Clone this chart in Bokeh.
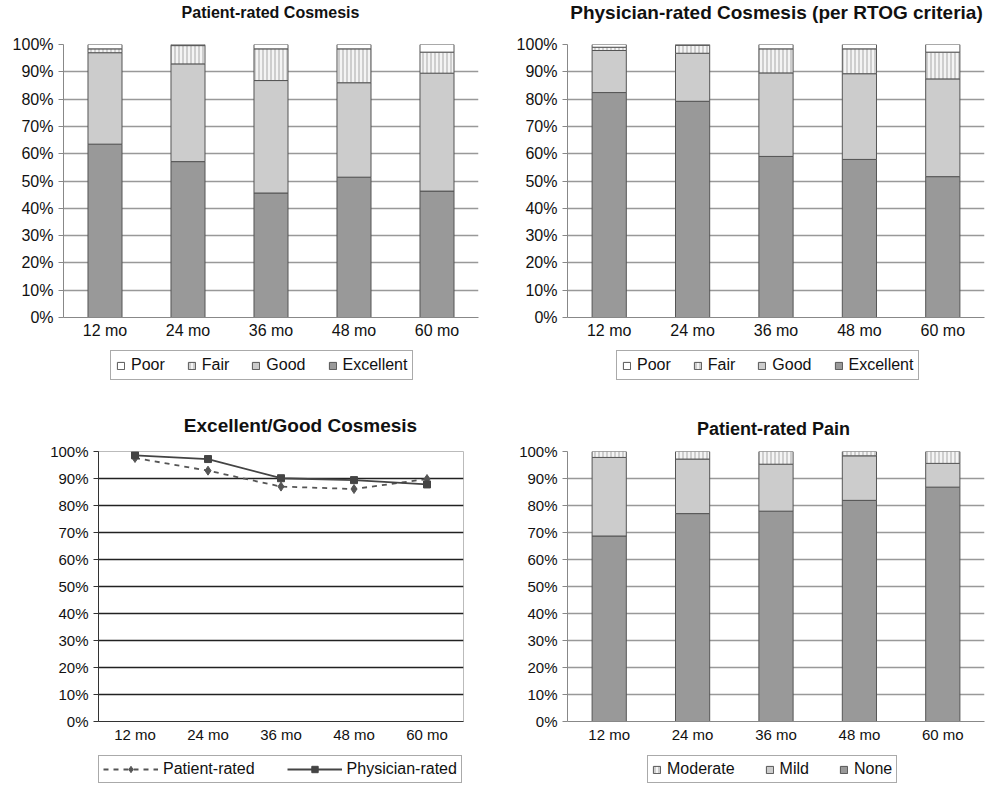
from bokeh.plotting import figure
from bokeh.models import ColumnDataSource, Legend, LegendItem, FixedTicker, Range1d, FactorRange, Label
from bokeh.layouts import column, row
from bokeh.embed import file_html
from bokeh.resources import INLINE

months = ["12 mo", "24 mo", "36 mo", "48 mo", "60 mo"]
pct_ticks = [0, 10, 20, 30, 40, 50, 60, 70, 80, 90, 100]

# Patient-rated cosmesis (%)
pat_excellent = [63.5, 57.1, 45.6, 51.4, 46.3]
pat_good = [33.5, 35.8, 41.2, 34.6, 43.2]
pat_fair = [1.4, 6.7, 11.6, 12.4, 7.7]
pat_poor = [1.6, 0.4, 1.6, 1.6, 2.8]

# Physician-rated cosmesis (%)
phy_excellent = [82.4, 79.2, 59.0, 57.9, 51.6]
phy_good = [15.4, 17.6, 30.6, 31.4, 35.8]
phy_fair = [1.2, 2.9, 8.8, 9.1, 9.8]
phy_poor = [1.0, 0.3, 1.6, 1.6, 2.8]

# Excellent/Good cosmesis (%)
line_patient = [97.6, 92.9, 87.0, 86.1, 89.8]
line_physician = [98.6, 97.2, 90.1, 89.4, 87.8]

# Patient-rated pain (%)
pain_none = [68.7, 77.0, 77.9, 81.9, 86.8]
pain_mild = [29.1, 20.2, 17.4, 16.5, 8.8]
pain_moderate = [2.2, 2.8, 4.7, 1.6, 4.4]

FONT = "Liberation Sans"
DARK = "#999999"
LIGHT = "#cccccc"
FAIR = "#f4f4f4"
EDGE = "#555555"


def new_fig(width, height, left, right, top, bottom, y0=0, y1=100):
    return figure(width=width, height=height, x_range=FactorRange(*months, range_padding=0),
                  y_range=Range1d(y0, y1), output_backend="svg", toolbar_location=None,
                  title=None, min_border_left=left, min_border_right=right,
                  min_border_top=top, min_border_bottom=bottom,
                  background_fill_color="white", border_fill_color="white")


def strip(height):
    # an empty strip that only hosts a title or a legend (data, if any, sits outside the view)
    sp = new_fig(500, height, 0, 0, 0, 0, y0=200, y1=300)
    sp.axis.visible = False
    sp.grid.visible = False
    sp.outline_line_color = None
    return sp


def title_strip(height, text, cx, cy, size):
    sp = strip(height)
    sp.add_layout(Label(x=cx, y=cy, x_units="screen", y_units="screen", text=text,
                        text_font=FONT, text_font_size=size, text_font_style="bold",
                        text_color="#111111", text_align="center", text_baseline="middle"))
    return sp


def base_fig(width, height, left, right, top, bottom, tick_size="16px",
             grid_color="#999999", axis_color="#888888"):
    p = new_fig(width, height, left, right, top, bottom)
    p.yaxis.ticker = FixedTicker(ticks=pct_ticks)
    p.yaxis.major_label_overrides = {v: f"{v}%" for v in pct_ticks}
    for ax in (p.xaxis[0], p.yaxis[0]):
        ax.major_label_text_font = FONT
        ax.major_label_text_font_size = tick_size
        ax.major_label_text_color = "#111111"
        ax.axis_line_color = axis_color
        ax.major_tick_line_color = axis_color
        ax.minor_tick_line_color = None
        ax.major_tick_in = 0
        ax.major_tick_out = 5
        ax.major_label_standoff = 5
    p.xaxis.major_tick_line_color = None
    p.xaxis.major_tick_out = 0
    p.xaxis.major_label_standoff = 4
    p.xgrid.visible = False
    p.ygrid.grid_line_color = grid_color
    p.ygrid.grid_line_width = 1.3
    p.outline_line_color = None
    return p


def draw_stack(p, layers):
    # layers: list of (name, values, fill, hatched) from bottom to top
    data = {"month": months}
    for name, vals, _, _ in layers:
        data[name] = vals
    src = ColumnDataSource(data)
    rs = p.vbar_stack([l[0] for l in layers], x="month", width=0.41, source=src,
                      fill_color=[l[2] for l in layers], line_color=EDGE, line_width=1)
    for r, l in zip(rs, layers):
        if l[3]:
            r.glyph.hatch_pattern = "vertical_line"
            r.glyph.hatch_color = "#a8a8a8"
            r.glyph.hatch_scale = 4
            r.glyph.hatch_weight = 1
    return rs


def draw_lines(p):
    l1 = p.line(months, line_patient, line_color="#555555", line_width=1.8, line_dash="5 5")
    s1 = p.scatter(months, line_patient, marker="diamond", size=9, fill_color="#555555", line_color="#555555")
    l2 = p.line(months, line_physician, line_color="#444444", line_width=1.8)
    s2 = p.scatter(months, line_physician, marker="square", size=7, fill_color="#444444", line_color="#444444")
    return [[l1, s1], [l2, s2]]


def put_legend(lp, labels, renderer_groups, loc, glyph_w=9, glyph_h=9, spacing=22, padding=5, standoff=6):
    items = [LegendItem(label=lab, renderers=g) for lab, g in zip(labels, renderer_groups)]
    lg = Legend(items=items, orientation="horizontal", location=loc,
                label_text_font=FONT, label_text_font_size="16px", label_text_color="#111111",
                glyph_width=glyph_w, glyph_height=glyph_h, label_standoff=standoff, spacing=spacing,
                padding=padding, margin=0, border_line_color=EDGE, border_line_width=1.3,
                background_fill_color="white", background_fill_alpha=1.0)
    lp.add_layout(lg, "center")


pat_layers = [("Excellent", pat_excellent, DARK, False), ("Good", pat_good, LIGHT, False),
              ("Fair", pat_fair, FAIR, True), ("Poor", pat_poor, "white", False)]
phy_layers = [("Excellent", phy_excellent, DARK, False), ("Good", phy_good, LIGHT, False),
              ("Fair", phy_fair, FAIR, True), ("Poor", phy_poor, "white", False)]
pain_layers = [("None", pain_none, DARK, False), ("Mild", pain_mild, LIGHT, False),
               ("Moderate", pain_moderate, FAIR, True)]

# Row 1: titles
t1 = title_strip(26, "Patient-rated Cosmesis", 270, 14, "16px")
t2 = title_strip(26, "Physician-rated Cosmesis (per RTOG criteria)", 276, 14, "19px")

# Row 2: top charts
p1 = base_fig(500, 320, 63, 22, 18, 29)
draw_stack(p1, pat_layers)
p2 = base_fig(500, 320, 67, 16, 18, 29)
draw_stack(p2, phy_layers)

# Row 3: top legends
lg1 = strip(46)
rs = draw_stack(lg1, pat_layers)
put_legend(lg1, [l[0] for l in pat_layers][::-1], [[r] for r in rs][::-1], (110, 12))
lg2 = strip(46)
rs = draw_stack(lg2, phy_layers)
put_legend(lg2, [l[0] for l in phy_layers][::-1], [[r] for r in rs][::-1], (116, 12))

# Row 4: titles
t3 = title_strip(48, "Excellent/Good Cosmesis", 300, 15, "19px")
t4 = title_strip(48, "Patient-rated Pain", 273, 12, "18px")

# Row 5: bottom charts
p3 = base_fig(500, 308, 98, 37, 11, 27, tick_size="15px", grid_color="#222222", axis_color="#333333")
p3.outline_line_color = "#bbbbbb"
draw_lines(p3)
p4 = base_fig(500, 308, 67, 16, 9, 26, tick_size="15px")
draw_stack(p4, pain_layers)

# Row 6: bottom legends
lg3 = strip(36)
groups = draw_lines(lg3)
put_legend(lg3, ["Patient-rated", "Physician-rated"], groups, (98, 1),
           glyph_w=55, glyph_h=16, spacing=32, padding=4, standoff=5)
lg4 = strip(36)
rs = draw_stack(lg4, pain_layers)
put_legend(lg4, [l[0] for l in pain_layers][::-1], [[r] for r in rs][::-1], (147, 1),
           spacing=30, padding=4)

layout = column(row(t1, t2), row(p1, p2), row(lg1, lg2), row(t3, t4), row(p3, p4), row(lg3, lg4))
open("out.html", "w").write(file_html(layout, INLINE))
